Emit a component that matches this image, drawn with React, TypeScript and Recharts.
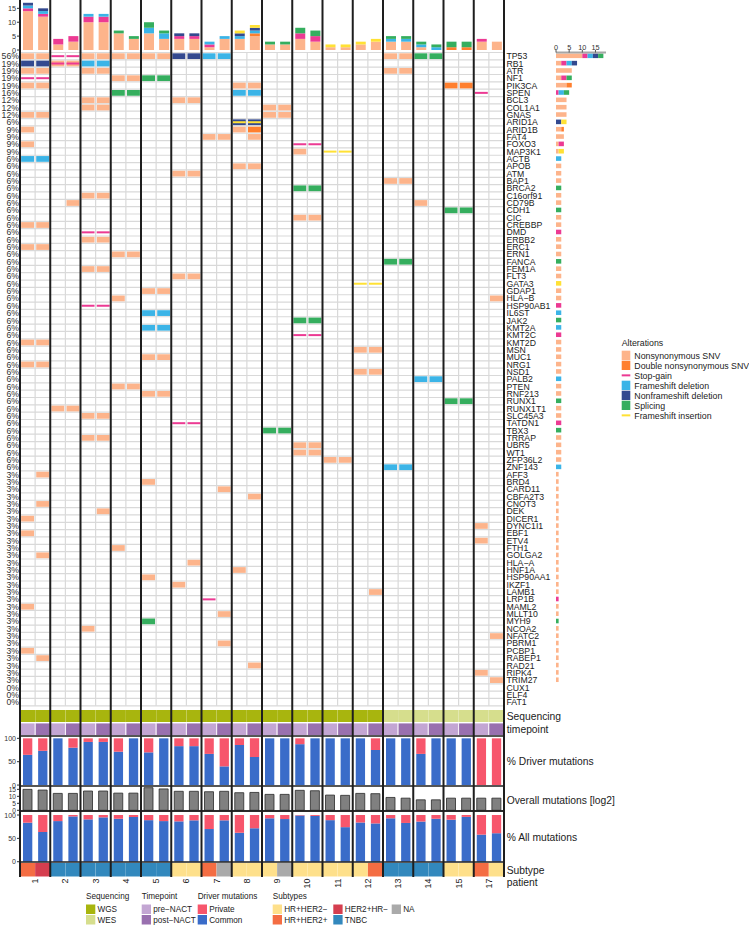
import React from 'react';
import { BarChart, Bar, XAxis, YAxis, Cell, ScatterChart, Scatter, ReferenceLine } from 'recharts';

// ---------------- DATA ----------------
const patients = ['1', '2', '3', '4', '5', '6', '7', '8', '9', '10', '11', '12', '13', '14', '15', '17'];
const timepoints = ['pre', 'post'];
const sampleIds = patients.flatMap((p) => timepoints.map((t) => `${p}_${t}`));

const genes = [
  'TP53', 'RB1', 'ATR', 'NF1', 'PIK3CA', 'SPEN', 'BCL3', 'COL1A1', 'GNAS', 'ARID1A', 'ARID1B', 'FAT4', 'FOXO3',
  'MAP3K1', 'ACTB', 'APOB', 'ATM', 'BAP1', 'BRCA2', 'C16orf91', 'CD79B', 'CDH1', 'CIC', 'CREBBP', 'DMD', 'ERBB2',
  'ERC1', 'ERN1', 'FANCA', 'FEM1A', 'FLT3', 'GATA3', 'GDAP1', 'HLA\u2212B', 'HSP90AB1', 'IL6ST', 'JAK2', 'KMT2A',
  'KMT2C', 'KMT2D', 'MSN', 'MUC1', 'NRG1', 'NSD1', 'PALB2', 'PTEN', 'RNF213', 'RUNX1', 'RUNX1T1', 'SLC45A3',
  'TATDN1', 'TBX3', 'TRRAP', 'UBR5', 'WT1', 'ZFP36L2', 'ZNF143', 'AFF3', 'BRD4', 'CARD11', 'CBFA2T3', 'CNOT3',
  'DEK', 'DICER1', 'DYNC1I1', 'EBF1', 'ETV4', 'FTH1', 'GOLGA2', 'HLA\u2212A', 'HNF1A', 'HSP90AA1', 'IKZF1', 'LAMB1',
  'LRP1B', 'MAML2', 'MLLT10', 'MYH9', 'NCOA2', 'NFATC2', 'PBRM1', 'PCBP1', 'RABEP1', 'RAD21', 'RIPK4', 'TRIM27',
  'CUX1', 'ELF4', 'FAT1',
];

// one string per gene, one pair per patient (pre, post)
// s SNV, d double SNV, g stop-gain, f frameshift del, n nonframeshift del, p splicing, i frameshift ins
// r = SNV + stop-gain, a = nonframeshift del + frameshift ins
const alterationRows = [
  'ss gg ss ss ss nn ff .. .. .. .. .. ss pp .. ..', // TP53
  'nn rr ff .. .. .. .. .. .. .. .. .. .. .. .. ..', // RB1
  'ss .. ss .. .. .. .. .. .. .. .. .. ss .. .. ..', // ATR
  'gg .. .. ss pp .. .. .. .. .. .. .. .. .. .. ..', // NF1
  'ss .. .. .. .. .. .. ss .. .. .. .. .. .. dd ..', // PIK3CA
  '.. .. .. pp .. .. .. ff .. .. .. .. .. .. .. g.', // SPEN
  '.. .. ss .. .. ss .. .. .. .. .. .. .. .. .. ..', // BCL3
  '.. .. ss .. .. .. .. .. ss .. .. .. .. .. .. ..', // COL1A1
  'ss .. .. .. .. .. .. .. ss .. .. .. .. .. .. ..', // GNAS
  '.. .. .. .. .. .. .. aa .. .. .. .. .. .. .. ..', // ARID1A
  's. .. .. .. .. .. .. sd .. .. .. .. .. .. .. ..', // ARID1B
  '.. .. .. .. .. .. ss .s .. .. .. .. .. .. .. ..', // FAT4
  's. .. .. .. .. .. .. .. .. gg .. .. .. .. .. ..', // FOXO3
  '.. .. .. .. .. .. .. .. .. s. ii .. .. .. .. ..', // MAP3K1
  'ff .. .. .. .. .. .. .. .. .. .. .. .. .. .. ..', // ACTB
  '.. .. .. .. .. .. .. ss .. .. .. .. .. .. .. ..', // APOB
  '.. .. .. .. .. ss .. .. .. .. .. .. .. .. .. ..', // ATM
  '.. .. .. .. .. .. .. .. .. .. .. .. ss .. .. ..', // BAP1
  '.. .. .. .. .. .. .. .. .. pp .. .. .. .. .. ..', // BRCA2
  '.. .. ss .. .. .. .. .. .. .. .. .. .. .. .. ..', // C16orf91
  '.. .s .. .. .. .. .. .. .. .. .. .. .. s. .. ..', // CD79B
  '.. .. .. .. .. .. .. .. .. .. .. .. .. .. pp ..', // CDH1
  '.. .. .. .. .. .. .. .. .. ss .. .. .. .. .. ..', // CIC
  'ss .. .. .. .. .. .. .. .. .. .. .. .. .. .. ..', // CREBBP
  '.. .. gg .. .. .. .. .. .. .. .. .. .. .. .. ..', // DMD
  '.. .. ss .. .. .. .. .. .. .. .. .. .. .. .. ..', // ERBB2
  'ss .. .. .. .. .. .. .. .. .. .. .. .. .. .. ..', // ERC1
  '.. .. .. ss .. .. .. .. .. .. .. .. .. .. .. ..', // ERN1
  '.. .. .. .. .. .. .. .. .. .. .. .. pp .. .. ..', // FANCA
  '.. .. ss .. .. .. .. .. .. .. .. .. .. .. .. ..', // FEM1A
  '.. .. .. .. .. ss .. .. .. .. .. .. .. .. .. ..', // FLT3
  '.. .. .. .. .. .. .. .. .. .. .. ii .. .. .. ..', // GATA3
  '.. .. .. .. ss .. .. .. .. .. .. .. .. .. .. ..', // GDAP1
  '.. .. .. s. .. .. .. .. .. .. .. .. .. .. .. .s', // HLA-B
  '.. .. gg .. .. .. .. .. .. .. .. .. .. .. .. ..', // HSP90AB1
  '.. .. .. .. ff .. .. .. .. .. .. .. .. .. .. ..', // IL6ST
  '.. .. .. .. .. .. .. .. .. pp .. .. .. .. .. ..', // JAK2
  '.. .. .. .. ff .. .. .. .. .. .. .. .. .. .. ..', // KMT2A
  '.. .. .. .. .. .. .. .. .. gg .. .. .. .. .. ..', // KMT2C
  'ss .. .. .. .. .. .. .. .. .. .. .. .. .. .. ..', // KMT2D
  '.. .. .. .. .. .. .. .. .. .. .. ss .. .. .. ..', // MSN
  '.. .. .. .. ss .. .. .. .. .. .. .. .. .. .. ..', // MUC1
  'ss .. .. .. .. .. .. .. .. .. .. .. .. .. .. ..', // NRG1
  '.. .. .. .. .. .. .. .. .. .. .. ss .. .. .. ..', // NSD1
  '.. .. .. .. .. .. .. .. .. .. .. .. .. ff .. ..', // PALB2
  '.. .. .. ss .. .. .. .. .. .. .. .. .. .. .. ..', // PTEN
  '.. .. .. .. ss .. .. .. .. .. .. .. .. .. .. ..', // RNF213
  '.. .. .. .. .. .. .. .. .. .. .. .. .. .. pp ..', // RUNX1
  '.. ss .. .. .. .. .. .. .. .. .. .. .. .. .. ..', // RUNX1T1
  '.. .. ss .. .. .. .. .. .. .. .. .. .. .. .. ..', // SLC45A3
  '.. .. .. .. .. gg .. .. .. .. .. .. .. .. .. ..', // TATDN1
  '.. .. .. .. .. .. .. .. pp .. .. .. .. .. .. ..', // TBX3
  '.. .. ss .. .. .. .. .. .. .. .. .. .. .. .. ..', // TRRAP
  '.. .. .. .. .. .. .. .. .. ss .. .. .. .. .. ..', // UBR5
  '.. .. .. .. .. .. .. .. .. ss .. .. .. .. .. ..', // WT1
  '.. .. .. .. .. .. .. .. .. .. ss .. .. .. .. ..', // ZFP36L2
  '.. .. .. .. .. .. .. .. .. .. .. .. ff .. .. ..', // ZNF143
  '.s .. .. .. .. .. .. .. .. .. .. .. .. .. .. ..', // AFF3
  '.. .. .. .. s. .. .. .. .. .. .. .. .. .. .. ..', // BRD4
  '.. .. .. .. .. .. .s .. .. .. .. .. .. .. .. ..', // CARD11
  '.. .. .. .. .. .. .. .s .. .. .. .. .. .. .. ..', // CBFA2T3
  '.s .. .. .. .. .. .. .. .. .. .. .. .. .. .. ..', // CNOT3
  '.. .. .s .. .. .. .. .. .. .. .. .. .. .. .. ..', // DEK
  's. .. .. .. .. .. .. .. .. .. .. .. .. .. .. ..', // DICER1
  '.. .. .. .. .. .. .. .. .. .. .. .. .. .. .. s.', // DYNC1I1
  's. .. .. .. .. .. .. .. .. .. .. .. .. .. .. ..', // EBF1
  '.. .. .. .. .. .. .. .. .. .. .. .. .. .. .. s.', // ETV4
  '.. .. .. s. .. .. .. .. .. .. .. .. .. .. .. ..', // FTH1
  '.s .. .. .. .. .. .. .. .. .. .. .. .. .. .. ..', // GOLGA2
  '.. .. .. .. .. .s .. .. .. .. .. .. .. .. .. ..', // HLA-A
  '.. .. .. .. .. .. .. s. .. .. .. .. .. .. .. ..', // HNF1A
  '.. .. .. .. s. .. .. .. .. .. .. .. .. .. .. ..', // HSP90AA1
  '.. .. .. .. .. s. .. .. .. .. .. .. .. .. .. ..', // IKZF1
  '.. .. .. .. .. .. .. .. .. .. .. .s .. .. .. ..', // LAMB1
  '.. .. .. .. .. .. g. .. .. .. .. .. .. .. .. ..', // LRP1B
  's. .. .. .. .. .. .. .. .. .. .. .. .. .. .. ..', // MAML2
  '.. .. .. .. .. .. .s .. .. .. .. .. .. .. .. ..', // MLLT10
  '.. .. .. .. p. .. .. .. .. .. .. .. .. .. .. ..', // MYH9
  '.. .. s. .. .. .. .. .. .. .. .. .. .. .. .. ..', // NCOA2
  '.. .. .. .. .. .. .. .. .. .. .. .. .. .. .. .s', // NFATC2
  '.. .. .. .. .. .. .s .. .. .. .. .. .. .. .. ..', // PBRM1
  's. .. .. .. .. .. .. .. .. .. .. .. .. .. .. ..', // PCBP1
  '.s .. .. .. .. .. .. .. .. .. .. .. .. .. .. ..', // RABEP1
  '.. .. .. .. .. .. .. .s .. .. .. .. .. .. .. ..', // RAD21
  '.. .. .. .. .. .. .. .. .. .. .. .. .. .. .. s.', // RIPK4
  '.. .. .. .. .. .. .. .. .. .. .. .. .. .. .. .s', // TRIM27
  '.. .. .. .. .. .. .. .. .. .. .. .. .. .. .. ..', // CUX1
  '.. .. .. .. .. .. .. .. .. .. .. .. .. .. .. ..', // ELF4
  '.. .. .. .. .. .. .. .. .. .. .. .. .. .. .. ..', // FAT1
];

const alterationTypes = [
  { code: 's', name: 'Nonsynonymous SNV', color: '#FDB48B', kind: 'tile' },
  { code: 'd', name: 'Double nonsynonymous SNV', color: '#FF7F2E', kind: 'tile' },
  { code: 'g', name: 'Stop-gain', color: '#EC3A93', kind: 'line' },
  { code: 'f', name: 'Frameshift deletion', color: '#3BB4E7', kind: 'tile' },
  { code: 'n', name: 'Nonframeshift deletion', color: '#33498F', kind: 'tile' },
  { code: 'p', name: 'Splicing', color: '#35AE5E', kind: 'tile' },
  { code: 'i', name: 'Frameshift insertion', color: '#FFE135', kind: 'line' },
];
const comboCodes: Record<string, string[]> = { r: ['s', 'g'], a: ['n', 'i'] };

const sequencingBySample = [
  'WGS', 'WGS', 'WGS', 'WGS', 'WGS', 'WGS', 'WGS', 'WGS', 'WGS', 'WGS', 'WGS', 'WGS', 'WGS', 'WGS', 'WGS', 'WGS',
  'WGS', 'WGS', 'WGS', 'WGS', 'WGS', 'WGS', 'WGS', 'WGS', 'WES', 'WES', 'WES', 'WES', 'WES', 'WES', 'WES', 'WES',
];
const subtypeBySample = [
  'HR+HER2+', 'HER2+HR\u2212', 'TNBC', 'TNBC', 'TNBC', 'TNBC', 'TNBC', 'TNBC', 'TNBC', 'TNBC',
  'HR+HER2\u2212', 'HR+HER2\u2212', 'HR+HER2+', 'NA', 'HR+HER2\u2212', 'HR+HER2\u2212', 'HR+HER2\u2212', 'NA',
  'HR+HER2\u2212', 'HR+HER2\u2212', 'HR+HER2\u2212', 'HR+HER2\u2212', 'HR+HER2\u2212', 'HR+HER2+',
  'TNBC', 'TNBC', 'TNBC', 'TNBC', 'HR+HER2\u2212', 'HR+HER2\u2212', 'HR+HER2+', 'HR+HER2\u2212',
];
// % of driver mutations shared between timepoints (Common)
const driverCommonPct = [
  64.7, 73.3, 100, 80, 92.3, 92.3, 71.4, 100, 70, 100, 83.3, 83.3, 66.7, 40, 85.7, 60,
  100, 100, 87.5, 100, 100, 100, 100, 75, 100, 100, 66.7, 100, 100, 100, 0, 0,
];
// overall mutations [log2]
const overallLog2 = [
  15.0, 14.5, 12.1, 12.1, 13.8, 13.8, 12.3, 12.3, 16.2, 15.3, 13.6, 13.6, 13.3, 13.6, 12.6, 12.8,
  11.4, 11.4, 14.3, 14.0, 10.9, 10.7, 12.1, 11.9, 9.2, 8.7, 7.5, 7.5, 8.7, 8.7, 8.7, 8.7,
];
// % of all mutations shared between timepoints (Common)
const allCommonPct = [
  83.6, 63.6, 87, 97, 90.7, 95, 92, 95.7, 89, 87, 86.4, 88.6, 70, 88.6, 62, 71.4,
  93, 91.4, 99, 98, 89, 74, 84, 82, 93, 83, 86, 92, 90, 96, 58, 61,
];

const topTicks = [0, 5, 10, 15];
const pctTicks = [0, 50, 100];

// ---------------- STYLE ----------------
const FONT = '"Liberation Sans", Arial, Helvetica, sans-serif';
const W = 749;
const PLOT_L = 20;
const PLOT_R = 504;
const RIGHT_M = W - PLOT_R;
const NCOL = sampleIds.length;
const COLW = (PLOT_R - PLOT_L) / NCOL;
const GRID_T = 52.5;
const GRID_B = 705.8;
const NROW = genes.length;
const ROWH = (GRID_B - GRID_T) / NROW;
const TILE_W = COLW - 2.2;
const TILE_H = ROWH - 1.6;
const LINE_H = 2;
const PAD = 5; // extra svg room so tick labels are not clipped

const seqColors: Record<string, string> = { WGS: '#A8B50E', WES: '#D6DE8D' };
const timeColors: Record<string, string> = { pre: '#C3A6D3', post: '#9970AF' };
const subtypeColors: Record<string, string> = {
  'HR+HER2\u2212': '#FEE08B', 'HR+HER2+': '#F46D43', 'HER2+HR\u2212': '#D53E4F', TNBC: '#3288BD', NA: '#AAAAAA',
};
const PRIVATE = '#F7566C';
const COMMON = '#3A6CC9';
const GRAY_LINE = '#D9D9D9';
const SEP = '#1E1E1E';

// ---------------- DERIVED ----------------
const cellCodes: string[][][] = alterationRows.map((row) =>
  row.replace(/\s+/g, '').split('').map((ch) => (ch === '.' ? [] : comboCodes[ch] ?? [ch]))
);
const points: Record<string, { x: number; y: number }[]> = {};
alterationTypes.forEach((t) => (points[t.code] = []));
cellCodes.forEach((row, r) =>
  row.forEach((codes, c) => codes.forEach((code) => points[code].push({ x: c + 0.5, y: r + 0.5 })))
);
const topData = sampleIds.map((id, c) => {
  const o: any = { id };
  alterationTypes.forEach((t) => (o[t.code] = 0));
  cellCodes.forEach((row) => row[c].forEach((code) => o[code]++));
  return o;
});
const geneData = genes.map((g, r) => {
  const o: any = { gene: g };
  alterationTypes.forEach((t) => (o[t.code] = 0));
  cellCodes[r].forEach((codes) => codes.forEach((code) => o[code]++));
  return o;
});
const roundHalfEven = (v: number) => {
  const f = Math.floor(v);
  if (Math.abs(v - f - 0.5) < 1e-9) return f % 2 === 0 ? f : f + 1;
  return Math.round(v);
};
const pctLabels = cellCodes.map((row) => `${roundHalfEven((row.filter((c) => c.length).length / NCOL) * 100)}%`);
const rowTicks = genes.map((_, r) => r + 0.5);
const rowLines = Array.from({ length: NROW + 1 }, (_, i) => i);
const withinLines = patients.map((_, i) => i * 2 + 1);
const sepLines = Array.from({ length: patients.length + 1 }, (_, i) => i * 2);

const seqData = sampleIds.map((id, c) => ({ id, v: 1, seq: sequencingBySample[c] }));
const timeData = sampleIds.map((id, c) => ({ id, v: 1, tp: timepoints[c % 2] }));
const subtypeData = sampleIds.map((id, c) => ({ id, v: 1, st: subtypeBySample[c] }));
const driverData = sampleIds.map((id, c) => ({ id, common: driverCommonPct[c], private: 100 - driverCommonPct[c] }));
const overallData = sampleIds.map((id, c) => ({ id, v: overallLog2[c] }));
const allData = sampleIds.map((id, c) => ({ id, common: allCommonPct[c], private: 100 - allCommonPct[c] }));
const postIds = sampleIds.filter((_, c) => c % 2 === 1);

const tileShape = (color: string, kind: string) => (props: any) => {
  const { cx, cy } = props;
  if (cx == null || cy == null) return <g />;
  const h = kind === 'tile' ? TILE_H : LINE_H;
  return <rect x={cx - TILE_W / 2} y={cy - h / 2} width={TILE_W} height={h} fill={color} />;
};

const axisTick = { fontSize: 7.3, fill: '#333', fontFamily: FONT };

const PatientTick = (props: any) => {
  const { x, y, payload } = props;
  const label = String(payload.value).split('_')[0];
  return (
    <text
      transform={`translate(${x - COLW / 2},${y + 1}) rotate(-90)`}
      textAnchor="end"
      dominantBaseline="central"
      fontSize={9}
      fontFamily={FONT}
      fill="#222"
    >
      {label}
    </text>
  );
};

const Abs = ({ top, children }: { top: number; children: any }) => (
  <div style={{ position: 'absolute', left: 0, top }}>{children}</div>
);

const Legends = () => {
  const tiles = alterationTypes;
  const t = { fontFamily: FONT, fill: '#222' };
  const trackLabels: [string, number][] = [
    ['Sequencing', 716.7], ['timepoint', 729.3], ['% Driver mutations', 761.7], ['Overall mutations [log2]', 800],
    ['% All mutations', 837.7], ['Subtype', 870], ['patient', 882.7],
  ];
  const groups = [
    { title: 'Sequencing', x: 86, items: [['WGS', seqColors.WGS], ['WES', seqColors.WES]] },
    { title: 'Timepoint', x: 141.7, items: [['pre\u2212NACT', timeColors.pre], ['post\u2212NACT', timeColors.post]] },
    { title: 'Driver mutations', x: 197.7, items: [['Private', PRIVATE], ['Common', COMMON]] },
  ];
  const subCols: { x: number; items: string[] }[] = [
    { x: 272.7, items: ['HR+HER2\u2212', 'HR+HER2+'] },
    { x: 333.3, items: ['HER2+HR\u2212', 'TNBC'] },
    { x: 391.7, items: ['NA'] },
  ];
  return (
    <svg width={W} height={925} style={{ position: 'absolute', left: 0, top: 0 }}>
      {trackLabels.map(([s, y]) => (
        <text key={s} x={506.7} y={y} fontSize={10.3} dominantBaseline="central" {...t}>{s}</text>
      ))}
      <text x={621.7} y={342.7} fontSize={8.8} dominantBaseline="central" {...t}>Alterations</text>
      {tiles.map((a, i) => {
        const y = 350.7 + i * 10;
        return (
          <g key={a.code}>
            {a.kind === 'tile' ? (
              <rect x={621.7} y={y} width={8.6} height={9.3} fill={a.color} />
            ) : (
              <g>
                <rect x={621.7} y={y} width={8.6} height={9.3} fill="#fff" />
                <rect x={621.7} y={y + 3.65} width={8.6} height={2} fill={a.color} />
              </g>
            )}
            <text x={634.3} y={y + 4.8} fontSize={8.8} dominantBaseline="central" {...t}>{a.name}</text>
          </g>
        );
      })}
      {groups.map((g) => (
        <g key={g.title}>
          <text x={g.x} y={896.7} fontSize={8.2} dominantBaseline="central" {...t}>{g.title}</text>
          {g.items.map(([name, color], i) => (
            <g key={name}>
              <rect x={g.x} y={904.5 + i * 10.5} width={9.3} height={9.5} fill={color} />
              <text x={g.x + 11.5} y={909.5 + i * 10.5} fontSize={8.2} dominantBaseline="central" {...t}>{name}</text>
            </g>
          ))}
        </g>
      ))}
      <text x={272.7} y={896.7} fontSize={8.2} dominantBaseline="central" {...t}>Subtypes</text>
      {subCols.map((col) =>
        col.items.map((name, i) => (
          <g key={name}>
            <rect x={col.x} y={904.5 + i * 10.5} width={9.3} height={9.5} fill={subtypeColors[name]} />
            <text x={col.x + 11.5} y={909.5 + i * 10.5} fontSize={8.2} dominantBaseline="central" {...t}>{name}</text>
          </g>
        ))
      )}
    </svg>
  );
};

export default function App() {
  const tileOrder = ['s', 'd', 'f', 'n', 'p', 'g', 'i'];
  return (
    <div style={{ position: 'absolute', left: 0, top: 0, width: W, height: 925, background: '#fff', overflow: 'hidden' }}>
      <Legends />

      {/* top mutation count bars (plot area y 0..50) */}
      <Abs top={0}>
        <BarChart width={W} height={50 + PAD} data={topData} margin={{ top: 0, bottom: PAD, left: 0, right: RIGHT_M }}>
          <XAxis dataKey="id" hide />
          <YAxis
            domain={[0, 18]}
            ticks={topTicks}
            interval={0}
            width={PLOT_L}
            allowDataOverflow
            tick={axisTick}
            tickSize={3}
            tickMargin={1}
            axisLine={{ stroke: '#333' }}
            tickLine={{ stroke: '#333' }}
          />
          {alterationTypes.map((a) => (
            <Bar key={a.code} dataKey={a.code} stackId="a" fill={a.color} barSize={10} isAnimationActive={false} />
          ))}
        </BarChart>
      </Abs>

      {/* oncoprint grid */}
      <Abs top={0}>
        <ScatterChart width={W} height={710} margin={{ top: GRID_T, bottom: 710 - GRID_B, left: 0, right: 0 }}>
          <XAxis type="number" dataKey="x" domain={[0, NCOL]} hide allowDataOverflow />
          <YAxis
            yAxisId="L"
            type="number"
            dataKey="y"
            domain={[0, NROW]}
            reversed
            allowDataOverflow
            ticks={rowTicks}
            interval={0}
            width={PLOT_L}
            tickFormatter={(v: number) => pctLabels[Math.floor(v)]}
            tickLine={false}
            tickSize={0}
            tickMargin={1}
            axisLine={false}
            tick={{ fontSize: 8.7, fill: '#333', fontFamily: FONT }}
          />
          <YAxis
            yAxisId="R"
            orientation="right"
            type="number"
            domain={[0, NROW]}
            reversed
            allowDataOverflow
            ticks={rowTicks}
            interval={0}
            width={RIGHT_M}
            tickFormatter={(v: number) => genes[Math.floor(v)]}
            tickLine={false}
            tickSize={0}
            tickMargin={2.5}
            axisLine={false}
            tick={{ fontSize: 8.7, fill: '#222', fontFamily: FONT, textAnchor: 'start' }}
          />
          {rowLines.map((v) => (
            <ReferenceLine key={`h${v}`} yAxisId="L" y={v} stroke={GRAY_LINE} strokeWidth={1.2} />
          ))}
          {withinLines.map((v) => (
            <ReferenceLine key={`v${v}`} yAxisId="L" x={v} stroke={GRAY_LINE} strokeWidth={1.2} />
          ))}
          {tileOrder.map((code) => {
            const a = alterationTypes.find((t) => t.code === code)!;
            return (
              <Scatter
                key={code}
                yAxisId="L"
                data={points[code]}
                shape={tileShape(a.color, a.kind)}
                isAnimationActive={false}
              />
            );
          })}
        </ScatterChart>
      </Abs>

      {/* right-side per-gene counts */}
      <Abs top={0}>
        <BarChart
          layout="vertical"
          width={W}
          height={710}
          data={geneData}
          margin={{ top: GRID_T - 12, bottom: 710 - GRID_B, left: 556, right: W - 606 }}
        >
          <XAxis
            type="number"
            orientation="top"
            domain={[0, 19]}
            allowDataOverflow
            ticks={topTicks}
            interval={0}
            height={12}
            tick={axisTick}
            tickSize={2.5}
            tickMargin={0.5}
            axisLine={{ stroke: '#A6A6A6', strokeWidth: 1.8 }}
            tickLine={{ stroke: '#555' }}
          />
          <YAxis type="category" dataKey="gene" hide width={0} />
          {alterationTypes.map((a) => (
            <Bar key={a.code} dataKey={a.code} stackId="g" fill={a.color} barSize={4.6} isAnimationActive={false} />
          ))}
        </BarChart>
      </Abs>

      {/* sequencing */}
      <Abs top={709.8}>
        <BarChart width={W} height={12.6} data={seqData} margin={{ top: 0, bottom: 0, left: PLOT_L, right: RIGHT_M }} barCategoryGap={0} barGap={0}>
          <XAxis dataKey="id" hide />
          <YAxis hide domain={[0, 1]} />
          <Bar dataKey="v" isAnimationActive={false}>
            {seqData.map((d) => (
              <Cell key={d.id} fill={seqColors[d.seq]} />
            ))}
          </Bar>
        </BarChart>
      </Abs>

      {/* timepoint */}
      <Abs top={722.6}>
        <BarChart width={W} height={12.6} data={timeData} margin={{ top: 0, bottom: 0, left: PLOT_L, right: RIGHT_M }} barCategoryGap={0} barGap={0}>
          <XAxis dataKey="id" hide />
          <YAxis hide domain={[0, 1]} />
          <Bar dataKey="v" isAnimationActive={false} stroke="#fff" strokeWidth={0.8}>
            {timeData.map((d) => (
              <Cell key={d.id} fill={timeColors[d.tp]} />
            ))}
          </Bar>
        </BarChart>
      </Abs>

      {/* % driver mutations (plot y 736..786) */}
      <Abs top={736 - PAD}>
        <BarChart width={W} height={50 + 2 * PAD} data={driverData} margin={{ top: PAD, bottom: PAD, left: 0, right: RIGHT_M }}>
          <XAxis dataKey="id" hide />
          <YAxis domain={[-2, 105]} allowDataOverflow ticks={pctTicks} interval={0} width={PLOT_L} tick={{ ...axisTick, fontSize: 7 }} tickSize={3} tickMargin={1} axisLine={false} tickLine={{ stroke: '#333' }} />
          <Bar dataKey="common" stackId="d" fill={COMMON} barSize={9.3} isAnimationActive={false} />
          <Bar dataKey="private" stackId="d" fill={PRIVATE} barSize={9.3} isAnimationActive={false} />
          <ReferenceLine y={105} stroke={SEP} strokeWidth={1.5} />
          <ReferenceLine y={-2} stroke={SEP} strokeWidth={1.5} />
        </BarChart>
      </Abs>

      {/* overall mutations (plot y 786..811) */}
      <Abs top={786 - PAD}>
        <BarChart width={W} height={25 + 2 * PAD} data={overallData} margin={{ top: PAD, bottom: PAD, left: 0, right: RIGHT_M }}>
          <XAxis dataKey="id" hide />
          <YAxis domain={[-0.5, 17.4]} allowDataOverflow ticks={topTicks} interval={0} width={PLOT_L} tick={{ ...axisTick, fontSize: 6.6 }} tickSize={3} tickMargin={1} axisLine={false} tickLine={{ stroke: '#333' }} />
          <Bar dataKey="v" fill="#808080" stroke="#2a2a2a" strokeWidth={0.8} barSize={9} isAnimationActive={false} />
          <ReferenceLine y={-0.5} stroke={SEP} strokeWidth={1.5} />
        </BarChart>
      </Abs>

      {/* % all mutations (plot y 811..862) */}
      <Abs top={811 - PAD}>
        <BarChart width={W} height={51 + 2 * PAD} data={allData} margin={{ top: PAD, bottom: PAD, left: 0, right: RIGHT_M }}>
          <XAxis dataKey="id" hide />
          <YAxis domain={[-0.6, 108.6]} allowDataOverflow ticks={pctTicks} interval={0} width={PLOT_L} tick={{ ...axisTick, fontSize: 7 }} tickSize={3} tickMargin={1} axisLine={false} tickLine={{ stroke: '#333' }} />
          <Bar dataKey="common" stackId="a" fill={COMMON} barSize={9.3} isAnimationActive={false} />
          <Bar dataKey="private" stackId="a" fill={PRIVATE} barSize={9.3} isAnimationActive={false} />
          <ReferenceLine y={108.6} stroke={SEP} strokeWidth={1.5} />
          <ReferenceLine y={-0.6} stroke={SEP} strokeWidth={1.5} />
        </BarChart>
      </Abs>

      {/* subtype + patient labels */}
      <Abs top={862.5}>
        <BarChart width={W} height={31} data={subtypeData} margin={{ top: 0, bottom: 0, left: PLOT_L, right: RIGHT_M }} barCategoryGap={0} barGap={0}>
          <XAxis dataKey="id" ticks={postIds} interval={0} height={17.5} tick={<PatientTick />} tickLine={false} axisLine={false} tickSize={0} tickMargin={1} />
          <YAxis hide domain={[0, 1]} />
          <Bar dataKey="v" isAnimationActive={false}>
            {subtypeData.map((d) => (
              <Cell key={d.id} fill={subtypeColors[d.st]} />
            ))}
          </Bar>
        </BarChart>
      </Abs>

      {/* patient separators over everything */}
      <Abs top={0}>
        <ScatterChart width={W} height={877} margin={{ top: 0, bottom: 0, left: PLOT_L, right: RIGHT_M }}>
          <XAxis type="number" dataKey="x" domain={[0, NCOL]} hide allowDataOverflow />
          <YAxis type="number" dataKey="y" domain={[0, 1]} hide allowDataOverflow />
          <Scatter data={[]} isAnimationActive={false} />
          {sepLines.map((v) => (
            <ReferenceLine key={`s${v}`} x={v} stroke={SEP} strokeWidth={2} />
          ))}
        </ScatterChart>
      </Abs>
    </div>
  );
}
